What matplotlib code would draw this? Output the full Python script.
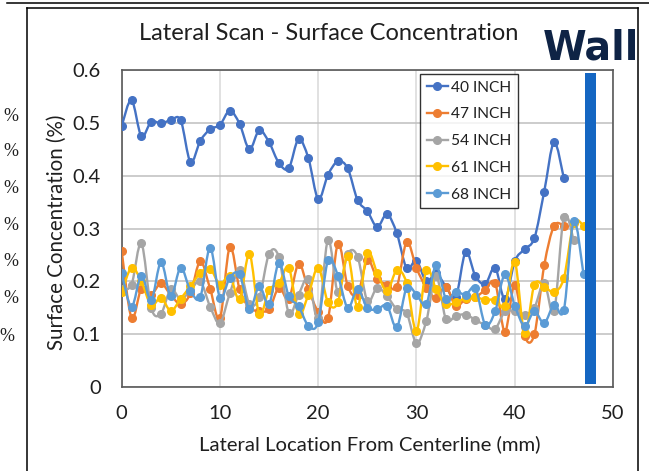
import numpy as np
import matplotlib
matplotlib.use("Agg")
import matplotlib.pyplot as plt
from matplotlib.path import Path
from matplotlib.patches import PathPatch
from matplotlib.lines import Line2D
from matplotlib.ticker import MultipleLocator, FuncFormatter

# Surface concentration (%) versus lateral location (mm), one series per scan height
series_names = ["40 INCH", "47 INCH", "54 INCH", "61 INCH", "68 INCH"]
series_colors = ["#4472C4", "#ED7D31", "#A5A5A5", "#FFC000", "#5B9BD5"]

conc_40 = [0.494, 0.543, 0.475, 0.502, 0.499, 0.505, 0.505, 0.426, 0.466, 0.488,
           0.496, 0.523, 0.498, 0.450, 0.486, 0.463, 0.424, 0.414, 0.469, 0.433,
           0.356, 0.402, 0.427, 0.414, 0.354, 0.333, 0.303, 0.327, 0.291, 0.225,
           0.239, 0.200, 0.215, 0.190, 0.170, 0.255, 0.210, 0.195, 0.226, 0.166,
           0.238, 0.261, 0.282, 0.370, 0.463, 0.395]
conc_47 = [0.257, 0.131, 0.186, 0.175, 0.196, 0.174, 0.157, 0.177, 0.238, 0.186,
           0.130, 0.265, 0.185, 0.150, 0.144, 0.147, 0.188, 0.166, 0.233, 0.185,
           0.142, 0.130, 0.271, 0.191, 0.175, 0.240, 0.205, 0.194, 0.190, 0.274,
           0.225, 0.188, 0.169, 0.190, 0.153, 0.167, 0.170, 0.184, 0.197, 0.105,
           0.194, 0.096, 0.100, 0.230, 0.305, 0.305]
conc_54 = [0.185, 0.194, 0.272, 0.150, 0.139, 0.185, 0.166, 0.183, 0.200, 0.152,
           0.121, 0.177, 0.221, 0.157, 0.170, 0.252, 0.246, 0.140, 0.175, 0.205,
           0.130, 0.279, 0.180, 0.252, 0.247, 0.163, 0.188, 0.172, 0.147, 0.140,
           0.083, 0.125, 0.210, 0.128, 0.135, 0.137, 0.127, 0.117, 0.110, 0.143,
           0.143, 0.137, 0.150, 0.197, 0.143, 0.322, 0.278]
conc_61 = [0.179, 0.226, 0.200, 0.155, 0.169, 0.144, 0.167, 0.191, 0.216, 0.224,
           0.194, 0.211, 0.166, 0.252, 0.138, 0.184, 0.196, 0.226, 0.138, 0.175,
           0.226, 0.160, 0.160, 0.248, 0.152, 0.254, 0.216, 0.182, 0.221, 0.197,
           0.106, 0.221, 0.185, 0.157, 0.160, 0.168, 0.170, 0.165, 0.165, 0.154,
           0.237, 0.102, 0.194, 0.190, 0.180, 0.206, 0.310, 0.305]
conc_68 = [0.215, 0.152, 0.211, 0.164, 0.236, 0.172, 0.226, 0.182, 0.170, 0.264,
           0.169, 0.207, 0.213, 0.147, 0.191, 0.157, 0.235, 0.172, 0.153, 0.116,
           0.123, 0.240, 0.211, 0.150, 0.185, 0.150, 0.147, 0.154, 0.113, 0.188,
           0.175, 0.157, 0.230, 0.167, 0.180, 0.175, 0.187, 0.118, 0.143, 0.213,
           0.154, 0.116, 0.143, 0.121, 0.156, 0.146, 0.314, 0.213]
all_series = [conc_40, conc_47, conc_54, conc_61, conc_68]

# Wall marker band
wall_center = 47.7
wall_width = 1.2
wall_bottom = 0.006
wall_top = 0.595

# Fragments of the neighbouring chart's axis labels at the left edge
side_labels = ["%", "%", "%", "%", "%", "%", "%"]

W, H = 649, 471
plt.rcParams["font.family"] = ["Lato", "DejaVu Sans"]
text_color = "#1f1f1f"

fig = plt.figure(figsize=(W / 100, H / 100), dpi=100)
fig.patch.set_facecolor("white")

ax_l, ax_r, ax_t, ax_b = 121.7, 613.0, 70.0, 387.0
ax = fig.add_axes([ax_l / W, 1 - ax_b / H, (ax_r - ax_l) / W, (ax_b - ax_t) / H])
ax.set_xlim(0, 50)
ax.set_ylim(0, 0.6)


def smooth_path(xs, ys):
    """Cubic Bezier path through the points (Excel-style smoothed line)."""
    pts = np.column_stack([xs, ys]).astype(float)
    n = len(pts)
    verts = [pts[0]]
    codes = [Path.MOVETO]
    for i in range(n - 1):
        p_prev = pts[i - 1] if i > 0 else pts[i]
        p_next2 = pts[i + 2] if i + 2 < n else pts[i + 1]
        c1 = pts[i] + (pts[i + 1] - p_prev) / 6.0
        c2 = pts[i + 1] - (p_next2 - pts[i]) / 6.0
        verts += [c1, c2, pts[i + 1]]
        codes += [Path.CURVE4] * 3
    return Path(verts, codes)


handles = []
for k, (name, color, vals) in enumerate(zip(series_names, series_colors, all_series)):
    xs = np.arange(len(vals))
    patch = PathPatch(smooth_path(xs, vals), fill=False, edgecolor=color,
                      linewidth=1.7, zorder=3 + k, capstyle="round", joinstyle="round")
    ax.add_patch(patch)
    ax.plot(xs, vals, linestyle="none", marker="o", markersize=5.5,
            color=color, zorder=3 + k)
    handles.append(Line2D([], [], color=color, linewidth=1.7, marker="o",
                          markersize=5.5, label=name))

ax.bar([wall_center], [wall_top - wall_bottom], bottom=wall_bottom,
       width=wall_width, color="#1466C2", zorder=10)

# Gridlines and frame
ax.xaxis.set_major_locator(MultipleLocator(10))
ax.yaxis.set_major_locator(MultipleLocator(0.1))
ax.yaxis.set_major_formatter(FuncFormatter(lambda v, p: "0" if abs(v) < 1e-9 else f"{v:.1f}"))
ax.set_axisbelow(True)
ax.grid(axis="y", color="#BFBFBF", linewidth=1.1)
ax.grid(axis="x", color="#D9D9D9", linewidth=1.1)
for sp in ax.spines.values():
    sp.set_color("#595959")
    sp.set_linewidth(1.2)
ax.tick_params(length=0, labelsize=14.5, labelcolor=text_color)
ax.tick_params(axis="y", pad=15)
ax.tick_params(axis="x", pad=13)

leg = ax.legend(handles=handles, loc="upper left",
                bbox_to_anchor=((420 - ax_l) / (ax_r - ax_l), (ax_b - 74) / (ax_b - ax_t)),
                borderaxespad=0, frameon=True, fancybox=False, fontsize=11.2,
                handlelength=1.4, handletextpad=0.2, labelspacing=0.82,
                borderpad=0.42, labelcolor=text_color)
leg.get_frame().set_edgecolor("#000000")
leg.get_frame().set_linewidth(1.0)
leg.set_zorder(20)

# Titles and axis labels
fig.text(329 / W, 1 - 34 / H, "Lateral Scan - Surface Concentration",
         ha="center", va="center", fontsize=17, color=text_color)
fig.text(57 / W, 1 - 232 / H, "Surface Concentration (%)", rotation=90,
         ha="center", va="center", fontsize=14.8, color=text_color)
fig.text(370 / W, 1 - 444 / H, "Lateral Location From Centerline (mm)",
         ha="center", va="center", fontsize=14.6, color=text_color)

fig.text(543 / W, 1 - 60 / H, "Wall", ha="left", va="baseline",
         fontsize=28.5, fontweight="bold", color="#0E2345",
         family=["DejaVu Sans"])

# Outer frame lines
frame_kw = dict(color="black", linewidth=1.1, transform=fig.transFigure)
fig.add_artist(Line2D([7 / W, 1], [1 - 3 / H, 1 - 3 / H], **frame_kw))
fig.add_artist(Line2D([27 / W, 638 / W], [1 - 8 / H, 1 - 8 / H], **frame_kw))
fig.add_artist(Line2D([27 / W, 27 / W], [1 - 8 / H, 0], **frame_kw))
fig.add_artist(Line2D([638 / W, 638 / W], [1 - 8 / H, 0], **frame_kw))

side_y = [116.7, 151.7, 188.3, 225.0, 261.7, 298.3, 336.7]
side_x = [18, 18, 18, 18, 18, 18, 14]
for lab, yy, xx in zip(side_labels, side_y, side_x):
    fig.text(xx / W, 1 - yy / H, lab, ha="right", va="center", fontsize=13,
             color=text_color, family=["Liberation Serif"])

fig.savefig("out.png", dpi=100)
